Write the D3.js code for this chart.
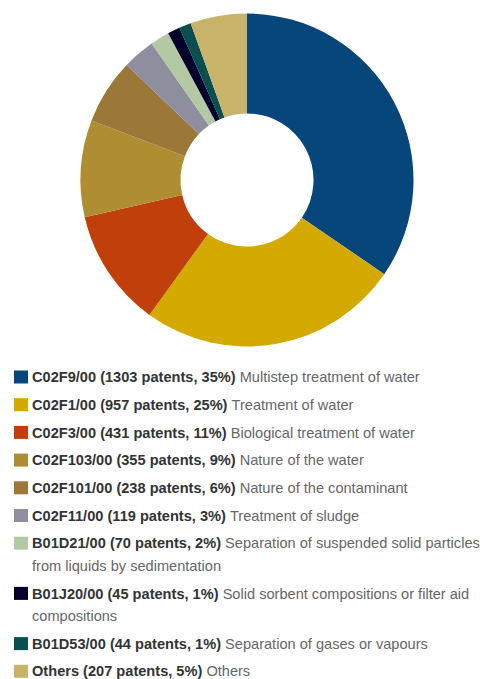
<!DOCTYPE html>
<html>
<head>
<meta charset="utf-8">
<script src="https://cdn.jsdelivr.net/npm/d3@7"></script>
<style>
  body { margin: 0; background: #fff; }
  svg { display: block; }
</style>
</head>
<body>
<div id="chart"></div>
<script>
// patent classes, counts, shares, descriptions
var codes = ["C02F9/00", "C02F1/00", "C02F3/00", "C02F103/00", "C02F101/00",
             "C02F11/00", "B01D21/00", "B01J20/00", "B01D53/00", "Others"];
var patents = [1303, 957, 431, 355, 238, 119, 70, 45, 44, 207];
var shares = [35, 25, 11, 9, 6, 3, 2, 1, 1, 5];
var descriptions = [
  "Multistep treatment of water",
  "Treatment of water",
  "Biological treatment of water",
  "Nature of the water",
  "Nature of the contaminant",
  "Treatment of sludge",
  "Separation of suspended solid particles from liquids by sedimentation",
  "Solid sorbent compositions or filter aid compositions",
  "Separation of gases or vapours",
  "Others"
];
var colors = ["#06467a", "#d4aa00", "#c03f0b", "#ae8d33", "#9b7837",
              "#8f8e9f", "#b3c9a4", "#05012b", "#0a4e4f", "#c8b36a"];

var width = 480, height = 679;
var cx = 247, cy = 180;
var outerR = 166.5, innerR = 66.5;

var svg = d3.select("#chart").append("svg")
    .attr("width", width)
    .attr("height", height);

var data = codes.map(function(c, i) {
  return { code: c, value: patents[i], share: shares[i], desc: descriptions[i], color: colors[i] };
});

var pie = d3.pie()
    .sort(null)
    .value(function(d) { return d.value; });

var arc = d3.arc()
    .innerRadius(innerR)
    .outerRadius(outerR);

svg.append("g")
    .attr("transform", "translate(" + cx + "," + cy + ")")
    .selectAll("path")
    .data(pie(data))
    .enter().append("path")
    .attr("d", arc)
    .attr("fill", function(d) { return d.data.color; });

// Legend
var legendX = 14, textX = 32, maxW = 450;
var firstY = 377, itemGap = 27.7, lineGap = 22.5;
var legend = svg.append("g").style("font-family", "'Liberation Sans', Arial, sans-serif")
    .style("font-size", "14.6px");

var y = firstY;
data.forEach(function(d) {
  legend.append("rect")
      .attr("x", legendX)
      .attr("y", y - 6.5)
      .attr("width", 14)
      .attr("height", 13)
      .attr("fill", d.color);

  var t = legend.append("text")
      .attr("x", textX)
      .attr("y", y)
      .attr("dy", "0.35em");
  t.append("tspan")
      .attr("font-weight", "bold")
      .attr("fill", "#333")
      .text(d.code + " (" + d.value + " patents, " + d.share + "%) ");
  var span = t.append("tspan").attr("fill", "#666");

  var words = d.desc.split(" ");
  var line = [];
  var lines = 1;
  var curText = t;
  var curSpan = span;
  words.forEach(function(w) {
    line.push(w);
    curSpan.text(line.join(" "));
    if (curText.node().getComputedTextLength() > maxW && line.length > 1) {
      line.pop();
      curSpan.text(line.join(" "));
      line = [w];
      lines++;
      curText = legend.append("text")
          .attr("x", textX)
          .attr("y", y + (lines - 1) * lineGap)
          .attr("dy", "0.35em");
      curSpan = curText.append("tspan").attr("fill", "#666").text(w);
    }
  });

  y += itemGap + (lines - 1) * lineGap;
});
</script>
</body>
</html>
